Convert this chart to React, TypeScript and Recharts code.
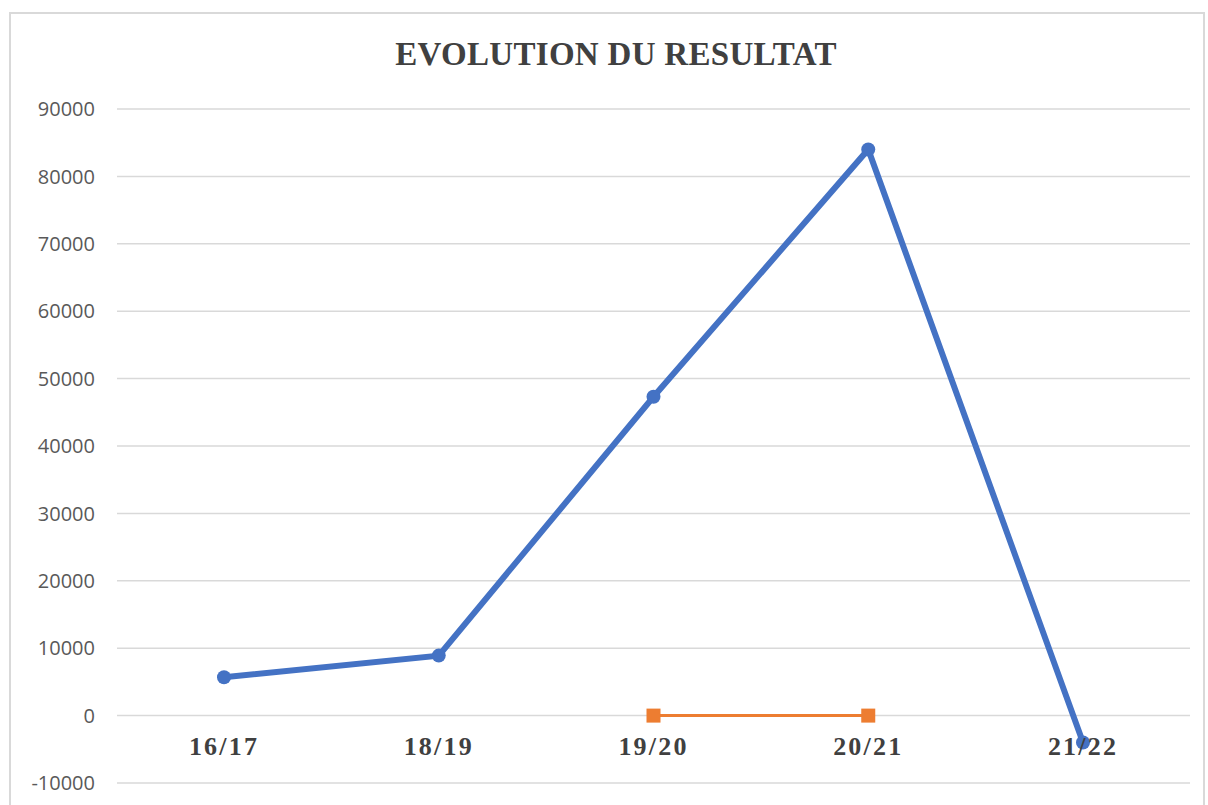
import { LineChart, Line, XAxis, YAxis, CartesianGrid } from "recharts";

const categories = ["16/17", "18/19", "19/20", "20/21", "21/22"];
const resultat = [5700, 8900, 47300, 84000, -4000];
const serie2 = [null, null, 0, 0, null];
const yTicks = [-10000, 0, 10000, 20000, 30000, 40000, 50000, 60000, 70000, 80000, 90000];

const data = categories.map((c, i) => ({ periode: c, resultat: resultat[i], serie2: serie2[i] }));

const XTick = (props: any) => {
  const { x, y, payload } = props;
  // labels sit under the zero line, like the Excel original
  return (
    <text
      x={x}
      y={y - 36}
      textAnchor="middle"
      fontFamily="'Liberation Serif', serif"
      fontWeight="bold"
      fontSize={26}
      letterSpacing={2.2}
      fill="#404040"
    >
      {payload.value}
    </text>
  );
};

const SquareDot = (props: any) => {
  const { cx, cy, value } = props;
  if (value === null || value === undefined || cx == null || cy == null) return null;
  return <rect x={cx - 7} y={cy - 7} width={14} height={14} fill="#ed7d31" />;
};

export default function App() {
  return (
    <div style={{ position: "absolute", left: 0, top: 0, width: 1208, height: 805, overflow: "hidden", background: "#fff" }}>
      <div
        style={{
          position: "absolute",
          left: 9,
          top: 12,
          width: 1192,
          height: 840,
          border: "2px solid #d9d9d9",
        }}
      />
      <div
        style={{
          position: "absolute",
          left: 12,
          width: 1208,
          top: 36,
          textAlign: "center",
          fontFamily: "'Liberation Serif', serif",
          fontWeight: "bold",
          fontSize: 33,
          letterSpacing: 0.3,
          color: "#404040",
        }}
      >
        EVOLUTION DU RESULTAT
      </div>
      <div style={{ position: "absolute", left: 0, top: 0 }}>
        <LineChart width={1208} height={805} data={data} margin={{ top: 109, right: 18, bottom: 0, left: 0 }}>
          <CartesianGrid vertical={false} stroke="#d9d9d9" strokeWidth={1.5} />
          <XAxis
            dataKey="periode"
            axisLine={false}
            tickLine={false}
            height={22}
            padding={{ left: 107, right: 107 }}
            tick={<XTick />}
            interval={0}
          />
          <YAxis
            domain={[-10000, 90000]}
            ticks={yTicks}
            interval={0}
            width={117}
            axisLine={false}
            tickLine={false}
            tickSize={0}
            tickMargin={22}
            tick={{ fontFamily: "'Open Sans', sans-serif", fontSize: 20, fill: "#595959" }}
          />
          <Line
            dataKey="resultat"
            stroke="#4472c4"
            strokeWidth={6}
            dot={{ r: 7, fill: "#4472c4", stroke: "#4472c4", strokeWidth: 0 }}
            isAnimationActive={false}
          />
          <Line
            dataKey="serie2"
            stroke="#ed7d31"
            strokeWidth={3}
            dot={<SquareDot />}
            isAnimationActive={false}
          />
        </LineChart>
      </div>
    </div>
  );
}
